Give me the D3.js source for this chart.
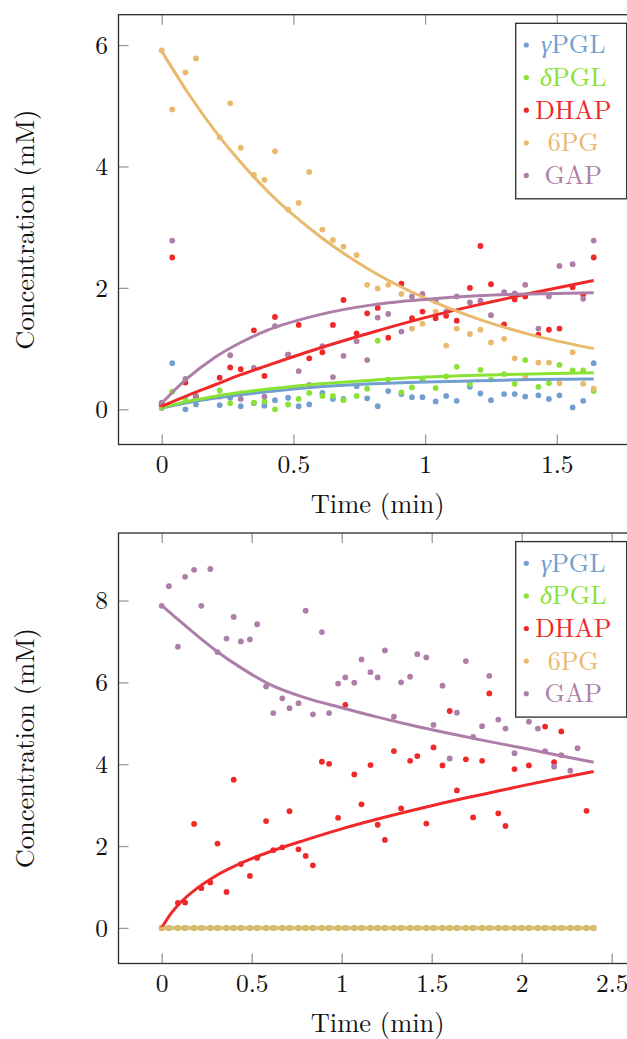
<!DOCTYPE html>
<html>
<head>
<meta charset="utf-8">
<script src="https://cdn.jsdelivr.net/npm/d3@7"></script>
<style>
  body { margin: 0; background: #fff; }
</style>
</head>
<body>
<div id="chart"></div>
<script>
// ***************数据*******************
const seriesNames = ['γPGL', 'δPGL', 'DHAP', '6PG', 'GAP'];
const seriesColors = ['#729fcf', '#8ae234', '#ef2929', '#e9b96e', '#ad7fa8'];

// 上图 (min)
const time1 = [0, 0.04, 0.09, 0.13, 0.22, 0.26, 0.30, 0.35, 0.39, 0.43, 0.48, 0.52, 0.56, 0.61, 0.65, 0.69, 0.74, 0.78, 0.82,
  0.86, 0.91, 0.95, 0.99, 1.04, 1.08, 1.12, 1.17, 1.21, 1.25, 1.30, 1.34, 1.38, 1.43, 1.47, 1.51, 1.56, 1.60, 1.64];
const gPGL1 = [0.02, 0.76, 0.00, 0.08, 0.07, 0.19, 0.05, 0.10, 0.06, 0.15, 0.19, 0.05, 0.08, 0.27, 0.17, 0.17, 0.38, 0.18, 0.05,
  0.30, 0.25, 0.20, 0.20, 0.13, 0.22, 0.14, 0.37, 0.26, 0.15, 0.25, 0.25, 0.21, 0.23, 0.17, 0.23, 0.03, 0.14, 0.76];
const dPGL1 = [0.03, 0.29, 0.17, 0.21, 0.31, 0.10, 0.26, 0.11, 0.13, 0.00, 0.08, 0.17, 0.27, 0.22, 0.22, 0.15, 0.22, 0.34, 1.13,
  0.49, 0.28, 0.36, 0.49, 0.35, 0.54, 0.70, 0.42, 0.65, 0.49, 0.58, 0.42, 0.81, 0.37, 0.43, 0.73, 0.64, 0.64, 0.30];
const dhap1 = [0.08, 2.50, 0.44, 0.20, 0.52, 0.69, 0.66, 1.30, 0.55, 1.52, 0.90, 1.39, 0.84, 0.94, 1.39, 1.80, 1.25, 1.58, 1.67,
  1.18, 2.07, 1.50, 1.61, 1.50, 1.54, 1.46, 2.00, 2.69, 2.06, 1.40, 1.81, 1.86, 1.23, 1.31, 1.33, 2.01, 1.89, 2.50];
const pg1 = [5.91, 4.94, 5.55, 5.78, 4.48, 5.04, 4.31, 3.86, 3.78, 4.25, 3.29, 3.40, 3.91, 2.96, 2.79, 2.68, 2.54, 2.05, 1.99,
  2.05, 1.90, 1.33, 1.41, 1.61, 1.05, 1.33, 1.24, 1.31, 1.10, 1.16, 0.84, 0.54, 0.77, 0.77, 0.43, 0.94, 0.42, 0.34];
const gap1 = [0.11, 2.78, 0.50, 0.22, 0.21, 0.89, 0.17, 0.68, 0.21, 1.37, 0.90, 0.63, 0.40, 1.04, 0.53, 0.88, 1.12, 0.81, 1.51,
  1.57, 1.28, 1.86, 1.90, 1.78, 1.61, 1.86, 1.76, 1.79, 1.55, 1.93, 1.91, 2.05, 1.33, 1.86, 2.36, 2.39, 1.82, 2.78];

// 上图拟合曲线
const fitTime1 = [0, 0.1, 0.2, 0.3, 0.4, 0.6, 0.8, 1.0, 1.2, 1.4, 1.64];
const gPGLFit1 = [0.02, 0.11, 0.18, 0.24, 0.29, 0.37, 0.42, 0.45, 0.47, 0.49, 0.50];
const dPGLFit1 = [0.03, 0.13, 0.21, 0.28, 0.33, 0.42, 0.48, 0.53, 0.56, 0.58, 0.60];
const dhapFit1 = [0.05, 0.23, 0.40, 0.57, 0.72, 1.01, 1.27, 1.51, 1.72, 1.91, 2.12];
const pgFit1 = [5.90, 5.21, 4.60, 4.07, 3.60, 2.85, 2.27, 1.83, 1.49, 1.23, 1.00];
const gapFit1 = [0.10, 0.52, 0.85, 1.10, 1.30, 1.56, 1.72, 1.81, 1.87, 1.90, 1.92];

// 下图
const time2 = [0, 0.04, 0.09, 0.13, 0.18, 0.22, 0.27, 0.31, 0.36, 0.40, 0.44, 0.49, 0.53, 0.58, 0.62, 0.67, 0.71, 0.76, 0.80,
  0.84, 0.89, 0.93, 0.98, 1.02, 1.07, 1.11, 1.16, 1.20, 1.24, 1.29, 1.33, 1.38, 1.42, 1.47, 1.51, 1.56, 1.60, 1.64, 1.69,
  1.73, 1.78, 1.82, 1.87, 1.91, 1.96, 2.00, 2.04, 2.09, 2.13, 2.18, 2.22, 2.27, 2.31, 2.36, 2.40];
const zeros2 = [0, 0, 0, 0, 0, 0, 0, 0, 0, 0, 0, 0, 0, 0, 0, 0, 0, 0, 0, 0, 0, 0, 0, 0, 0, 0, 0, 0,
  0, 0, 0, 0, 0, 0, 0, 0, 0, 0, 0, 0, 0, 0, 0, 0, 0, 0, 0, 0, 0, 0, 0, 0, 0, 0, 0];
const dhap2 = [0, null, 0.61, 0.62, 2.54, 0.97, 1.11, 2.06, 0.88, 3.62, 1.56, 1.27, 1.71, 2.61, 1.90, 1.97, 2.85, 1.92, 1.76,
  1.53, 4.06, 4.01, 2.69, 5.45, 3.75, 3.02, 3.98, 2.52, 2.15, 4.32, 2.92, 4.08, 4.20, 2.55, 4.41, 3.97, 5.30, 3.36, 4.12,
  2.70, 4.08, 5.73, 2.80, 2.49, 3.88, null, 3.97, null, 4.92, 4.05, 4.80, null, null, 2.86, null];
const gap2 = [7.87, 8.35, 6.87, 8.58, 8.75, 7.87, 8.77, 6.74, 7.07, 7.60, 7.00, 7.05, 7.42, 5.90, 5.25, 5.61, 5.37, 5.49, 7.75,
  5.22, 7.23, 5.25, 5.97, 6.12, 5.99, 6.56, 6.25, 6.12, 6.78, 5.16, 6.00, 6.14, 6.69, 6.61, 4.96, 5.92, 4.14, 5.26, 6.52,
  4.67, 4.93, 6.16, 5.09, 4.87, 4.27, null, 5.04, 4.87, 4.32, 3.94, 4.22, 3.84, 4.39, null, null];

// 下图拟合曲线
const fitTime2 = [0, 0.05, 0.1, 0.2, 0.3, 0.45, 0.6, 0.8, 1.0, 1.2, 1.4, 1.6, 1.8, 2.0, 2.2, 2.4];
const zeroFit2 = [0, 0, 0, 0, 0, 0, 0, 0, 0, 0, 0, 0, 0, 0, 0, 0];
const dhapFit2 = [0, 0.34, 0.60, 0.98, 1.27, 1.60, 1.86, 2.15, 2.42, 2.66, 2.88, 3.09, 3.28, 3.47, 3.65, 3.82];
const gapFit2 = [7.88, 7.69, 7.50, 7.13, 6.78, 6.33, 5.95, 5.62, 5.38, 5.15, 4.94, 4.75, 4.57, 4.40, 4.22, 4.05];

// 刻度
const xTicks1 = [0, 0.5, 1, 1.5];
const xTickLabels1 = ['0', '0.5', '1', '1.5'];
const yTicks1 = [0, 2, 4, 6];
const xTicks2 = [0, 0.5, 1, 1.5, 2, 2.5];
const xTickLabels2 = ['0', '0.5', '1', '1.5', '2', '2.5'];
const yTicks2 = [0, 2, 4, 6, 8];

// ***************字体: 找一个已安装的衬线字体*******************
const pickFont = () => {
  const ctx = document.createElement('canvas').getContext('2d');
  const sample = 'Concentration (mM) 0.5 WwIl';
  const widthOf = (f) => { ctx.font = `40px ${f}`; return ctx.measureText(sample).width; };
  const base = [widthOf('monospace'), widthOf('sans-serif')];
  const names = ['Latin Modern Roman', 'CMU Serif', 'Liberation Serif', 'DejaVu Serif', 'Noto Serif', 'Tinos',
    'Times New Roman', 'Nimbus Roman', 'FreeSerif', 'Times'];
  const found = names.find((n) => {
    const w1 = widthOf(`"${n}", monospace`);
    const w2 = widthOf(`"${n}", sans-serif`);
    return w1 !== base[0] || w2 !== base[1];
  });
  return found ? `"${found}", serif` : 'serif';
};
const FONT = pickFont();

// ***************绘制*******************
const width = 627;
const height = 1039;
const svg = d3.select('#chart').append('svg')
  .attr('width', width)
  .attr('height', height)
  .style('font-family', FONT);

const panels = [
  {
    id: 'p1', top: 14.7, bottom: 444.5,
    xDomain: [-0.164, 1.804], yDomain: [-0.58, 6.5],
    xTicks: xTicks1, xTickLabels: xTickLabels1, yTicks: yTicks1,
    time: time1, values: [gPGL1, dPGL1, dhap1, pg1, gap1],
    fitTime: fitTime1, fits: [gPGLFit1, dPGLFit1, dhapFit1, pgFit1, gapFit1],
  },
  {
    id: 'p2', top: 533, bottom: 963.5,
    xDomain: [-0.24, 2.64], yDomain: [-0.87, 9.65],
    xTicks: xTicks2, xTickLabels: xTickLabels2, yTicks: yTicks2,
    time: time2, values: [zeros2, zeros2, dhap2, zeros2, gap2],
    fitTime: fitTime2, fits: [zeroFit2, zeroFit2, dhapFit2, zeroFit2, gapFit2],
  },
];

const left = 118.5;
const right = 636.9; // 右边框在画面外

panels.forEach((p) => {
  const x = d3.scaleLinear().domain(p.xDomain).range([left, right]);
  const y = d3.scaleLinear().domain(p.yDomain).range([p.bottom, p.top]);
  const g = svg.append('g').attr('class', p.id);

  g.append('clipPath')
    .attr('id', `clip-${p.id}`)
    .append('rect')
    .attr('x', left)
    .attr('y', p.top)
    .attr('width', right - left)
    .attr('height', p.bottom - p.top);

  // 刻度 (朝内)
  const tickStyle = (sel) => {
    sel.attr('font-family', FONT);
    sel.select('.domain').remove();
    sel.selectAll('.tick line').attr('stroke', '#9a9a9a').attr('stroke-width', 1.3);
    sel.selectAll('text')
      .attr('fill', '#111')
      .style('font-family', FONT)
      .style('font-size', '25.5px');
  };
  g.append('g')
    .attr('transform', `translate(0,${p.bottom})`)
    .call(d3.axisBottom(x).tickValues(p.xTicks).tickSize(-10).tickFormat((d, i) => p.xTickLabels[i]))
    .call(tickStyle)
    .call((a) => a.selectAll('text').attr('y', 28.5).attr('dy', null));
  g.append('g')
    .attr('transform', `translate(0,${p.top})`)
    .call(d3.axisTop(x).tickValues(p.xTicks).tickSize(-10).tickFormat(''))
    .call(tickStyle);
  g.append('g')
    .attr('transform', `translate(${left},0)`)
    .call(d3.axisLeft(y).tickValues(p.yTicks).tickSize(-10).tickPadding(10.5).tickFormat(d3.format('d')))
    .call(tickStyle)
    .call((a) => a.selectAll('text').attr('dy', '0.33em'));
  g.append('g')
    .attr('transform', `translate(${right},0)`)
    .call(d3.axisRight(y).tickValues(p.yTicks).tickSize(-10).tickFormat(''))
    .call(tickStyle);

  // 数据点
  const plot = g.append('g').attr('clip-path', `url(#clip-${p.id})`);
  p.values.forEach((vals, si) => {
    const pts = p.time.map((t, i) => ({ t, v: vals[i] })).filter((d) => d.v !== null);
    plot.append('g')
      .selectAll('circle')
      .data(pts)
      .enter()
      .append('circle')
      .attr('cx', (d) => x(d.t))
      .attr('cy', (d) => y(d.v))
      .attr('r', 2.9)
      .attr('fill', seriesColors[si]);
  });

  // 拟合曲线
  const line = d3.line()
    .x((d) => x(d.t))
    .y((d) => y(d.v))
    .curve(d3.curveMonotoneX);
  p.fits.forEach((vals, si) => {
    plot.append('path')
      .datum(p.fitTime.map((t, i) => ({ t, v: vals[i] })))
      .attr('d', line)
      .attr('fill', 'none')
      .attr('stroke', seriesColors[si])
      .attr('stroke-width', 3);
  });

  // 边框
  g.append('rect')
    .attr('x', left)
    .attr('y', p.top)
    .attr('width', right - left)
    .attr('height', p.bottom - p.top)
    .attr('fill', 'none')
    .attr('stroke', '#2b2b2b')
    .attr('stroke-width', 1.3);

  // 坐标轴标题
  g.append('text')
    .attr('x', (left + right) / 2)
    .attr('y', p.bottom + 68.5)
    .attr('text-anchor', 'middle')
    .style('font-family', FONT)
    .style('font-size', '26.5px')
    .attr('fill', '#111')
    .text('Time (min)');
  g.append('text')
    .attr('transform', `translate(33.5,${(p.top + p.bottom) / 2}) rotate(-90)`)
    .attr('text-anchor', 'middle')
    .style('font-family', FONT)
    .style('font-size', '26.5px')
    .attr('fill', '#111')
    .text('Concentration (mM)');

  // 图例
  const legend = g.append('g').attr('transform', `translate(515.7,${p.top + 8.6})`);
  legend.append('rect')
    .attr('width', 111)
    .attr('height', 175.5)
    .attr('fill', '#fff')
    .attr('stroke', '#2b2b2b')
    .attr('stroke-width', 1.3);
  const items = legend.selectAll('.item')
    .data(seriesNames)
    .enter()
    .append('g')
    .attr('class', 'item')
    .attr('transform', (d, i) => `translate(0,${21.7 + i * 32.6})`);
  items.append('circle')
    .attr('cx', 10.6)
    .attr('r', 2.6)
    .attr('fill', (d, i) => seriesColors[i]);
  const label = items.append('text')
    .attr('x', 57.5)
    .attr('y', 8.4)
    .attr('text-anchor', 'middle')
    .style('font-family', FONT)
    .style('font-size', '26px')
    .attr('fill', (d, i) => seriesColors[i]);
  label.each(function (d) {
    const t = d3.select(this);
    if (d[0] === 'γ' || d[0] === 'δ') {
      t.append('tspan').style('font-style', 'italic').text(d[0]);
      t.append('tspan').text(d.slice(1));
    } else {
      t.text(d);
    }
  });
});
</script>
</body>
</html>
